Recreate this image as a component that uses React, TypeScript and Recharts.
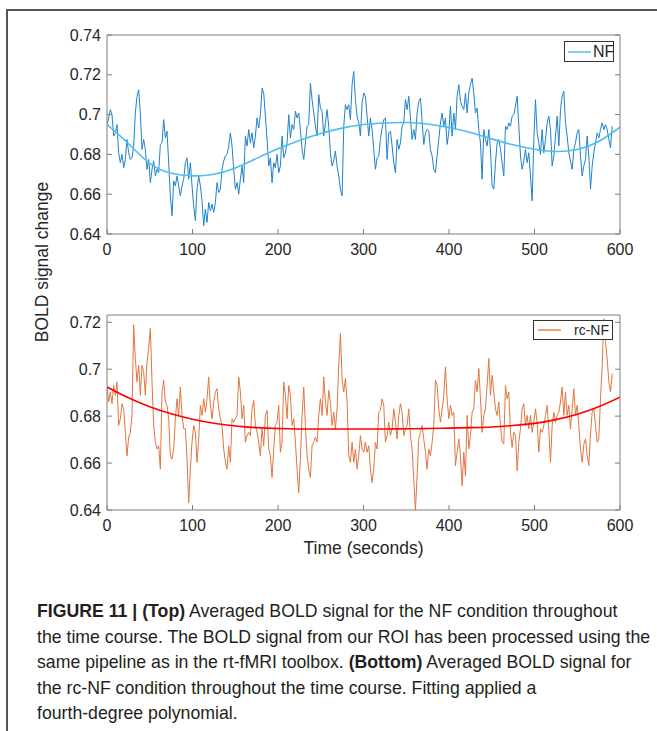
import React from "react";
import { LineChart, Line, XAxis, YAxis, Legend } from "recharts";

// sampling interval of the averaged BOLD time course (seconds)
const SAMPLE_STEP = 1.95;

const nfValues = [
  0.6950, 0.6983, 0.7025, 0.7000, 0.6892, 0.6908, 0.6950, 0.6808, 0.6758, 0.6800,
  0.6733, 0.6775, 0.6875, 0.6808, 0.6775, 0.6783, 0.6842, 0.7008, 0.7092, 0.7125,
  0.7008, 0.6825, 0.6875, 0.6825, 0.6725, 0.6775, 0.6658, 0.6725, 0.6767, 0.6692,
  0.6725, 0.6708, 0.6850, 0.6858, 0.6975, 0.6883, 0.6917, 0.6758, 0.6592, 0.6492,
  0.6667, 0.6642, 0.6692, 0.6642, 0.6592, 0.6642, 0.6675, 0.6758, 0.6783, 0.6675,
  0.6758, 0.6642, 0.6542, 0.6467, 0.6625, 0.6692, 0.6642, 0.6567, 0.6442, 0.6525,
  0.6458, 0.6558, 0.6517, 0.6550, 0.6508, 0.6558, 0.6658, 0.6608, 0.6625, 0.6725,
  0.6767, 0.6792, 0.6800, 0.6842,
  0.6908, 0.6842, 0.6725, 0.6625, 0.6658, 0.6600, 0.6675, 0.6742, 0.6658, 0.6892,
  0.6842, 0.6925, 0.6858, 0.6908, 0.6833, 0.6892, 0.6983, 0.6933, 0.7000, 0.7133,
  0.7108, 0.6992, 0.6875, 0.6742, 0.6783, 0.6658, 0.6758, 0.6733, 0.6800, 0.6708,
  0.6742, 0.6892, 0.6783, 0.6808, 0.6858, 0.7000, 0.6883, 0.6950, 0.6925, 0.7017,
  0.6983, 0.7008, 0.6925, 0.6825, 0.6775, 0.6858, 0.6942, 0.6950, 0.7158, 0.7075,
  0.7008, 0.6942, 0.6892, 0.7100, 0.7033, 0.7017, 0.6892, 0.6958, 0.7025, 0.6942,
  0.6808, 0.6742, 0.6767, 0.6817, 0.6742, 0.6692, 0.6625, 0.6592, 0.6942, 0.7050,
  0.7025, 0.7050, 0.6975, 0.7150, 0.7217, 0.7075, 0.6992, 0.6958,
  0.6892, 0.7058, 0.7108, 0.7092, 0.6992, 0.6892, 0.6983, 0.6925, 0.6825, 0.6725,
  0.6783, 0.6792, 0.6875, 0.6933, 0.6975, 0.6983, 0.6775, 0.6908, 0.6917, 0.6842,
  0.6758, 0.6708, 0.6875, 0.6825, 0.6858, 0.6942, 0.6958, 0.7075, 0.7025, 0.7092,
  0.6983, 0.6875, 0.6925, 0.6875, 0.7008, 0.7067, 0.7083, 0.6967, 0.6850, 0.6908,
  0.6925, 0.6917, 0.6825, 0.6792, 0.6725, 0.6708, 0.6792, 0.6875, 0.6958, 0.7008,
  0.6942, 0.6983, 0.6850, 0.6908, 0.7042, 0.6892, 0.7008, 0.6925, 0.7092, 0.7150,
  0.7067, 0.7042, 0.7025, 0.7108, 0.7008, 0.7108, 0.7150, 0.7183, 0.7108, 0.7008,
  0.7033, 0.6925, 0.6858, 0.6675, 0.6925, 0.6875, 0.6842, 0.6925,
  0.6825, 0.6642, 0.6625, 0.6758, 0.6858, 0.6875, 0.6825, 0.6758, 0.6692, 0.6942,
  0.6925, 0.6958, 0.6942, 0.6992, 0.7000, 0.7042, 0.7092, 0.6942, 0.6792, 0.6725,
  0.6767, 0.6825, 0.6758, 0.6808, 0.6692, 0.6567, 0.6875, 0.7075, 0.6908, 0.6858,
  0.6800, 0.6925, 0.6808, 0.6875, 0.6958, 0.6992, 0.6925, 0.6742, 0.6792, 0.6892,
  0.6992, 0.6842, 0.7025, 0.7092, 0.7117, 0.6958, 0.6892, 0.6808, 0.6767, 0.6725,
  0.6825, 0.6858, 0.6908, 0.6925, 0.6792, 0.6692, 0.6742, 0.6775, 0.6892, 0.6792,
  0.6625, 0.6742, 0.6808, 0.6858, 0.6908, 0.6883, 0.6925, 0.6958, 0.6925, 0.6950,
  0.6925, 0.6875, 0.6833, 0.6942,
];

const rcValues = [
  0.6924, 0.6860, 0.6903, 0.6853, 0.6931, 0.6889, 0.6946, 0.6760, 0.6789, 0.6853,
  0.6831, 0.6731, 0.6631, 0.6710, 0.6731, 0.6803, 0.7189, 0.7046, 0.6946, 0.7017,
  0.6889, 0.7017, 0.6989, 0.6889, 0.7031, 0.7089, 0.7174, 0.6946, 0.6760, 0.6689,
  0.6660, 0.6674, 0.6574, 0.6903, 0.6953, 0.6860, 0.6846, 0.6789, 0.6631, 0.6617,
  0.6660, 0.6789, 0.6874, 0.6803, 0.6924, 0.6803, 0.6746, 0.6746, 0.6617, 0.6431,
  0.6574, 0.6689, 0.6760, 0.6731, 0.6603, 0.6703, 0.6846, 0.6803, 0.6874, 0.6817,
  0.6874, 0.6967, 0.6846, 0.6789, 0.6860, 0.6903, 0.6917, 0.6831, 0.6789, 0.6760,
  0.6660, 0.6603, 0.6574, 0.6674,
  0.6603, 0.6789, 0.6774, 0.6789, 0.6803, 0.6967, 0.6903, 0.6789, 0.6846, 0.6689,
  0.6717, 0.6731, 0.6717, 0.6831, 0.6867, 0.6760, 0.6731, 0.6689, 0.6631, 0.6746,
  0.6674, 0.6803, 0.6824, 0.6660, 0.6631, 0.6539, 0.6660, 0.6760, 0.6774, 0.6846,
  0.6646, 0.6689, 0.6946, 0.6889, 0.6789, 0.6931, 0.6889, 0.6760, 0.6789, 0.6689,
  0.6574, 0.6474, 0.6617, 0.6803, 0.6924, 0.6760, 0.6631, 0.6574, 0.6539, 0.6674,
  0.6689, 0.6710, 0.6689, 0.6803, 0.6874, 0.6803, 0.6967, 0.6860, 0.6803, 0.6910,
  0.6860, 0.6760, 0.6817, 0.6746, 0.6831, 0.7017, 0.7153, 0.6960, 0.6903, 0.6960,
  0.6860, 0.6631, 0.6603, 0.6689, 0.6603, 0.6660, 0.6574, 0.6631,
  0.6717, 0.6660, 0.6646, 0.6689, 0.6646, 0.6674, 0.6574, 0.6517, 0.6574, 0.6689,
  0.6660, 0.6817, 0.6824, 0.6874, 0.6846, 0.6689, 0.6717, 0.6774, 0.6717, 0.6746,
  0.6831, 0.6774, 0.6703, 0.6803, 0.6853, 0.6817, 0.6717, 0.6746, 0.6760, 0.6831,
  0.6717, 0.6660, 0.6531, 0.6398, 0.6546, 0.6703, 0.6731, 0.6760, 0.6703, 0.6646,
  0.6574, 0.6660, 0.6631, 0.6689, 0.6760, 0.6953, 0.6931, 0.6831, 0.6774, 0.6831,
  0.6889, 0.7010, 0.6874, 0.6789, 0.6846, 0.6803, 0.6817, 0.6589, 0.6646, 0.6703,
  0.6631, 0.6503, 0.6646, 0.6546, 0.6803, 0.6660, 0.6717, 0.6817, 0.6831, 0.6953,
  0.6903, 0.7003, 0.6874, 0.6731, 0.6803, 0.6831, 0.6931, 0.7046,
  0.6889, 0.6974, 0.6903, 0.6831, 0.6803, 0.6860, 0.6760, 0.6689, 0.6681, 0.6931,
  0.6874, 0.6903, 0.6731, 0.6667, 0.6731, 0.6717, 0.6567, 0.6689, 0.6746, 0.6831,
  0.6853, 0.6760, 0.6803, 0.6746, 0.6803, 0.6731, 0.6774, 0.6831, 0.6774, 0.6646,
  0.6746, 0.6731, 0.6760, 0.6803, 0.6846, 0.6739, 0.6603, 0.6760, 0.6817, 0.6774,
  0.6803, 0.6817, 0.6860, 0.6924, 0.6803, 0.6903, 0.6803, 0.6846, 0.6746, 0.6831,
  0.6917, 0.6803, 0.6846, 0.6760, 0.6660, 0.6603, 0.6681, 0.6703, 0.6631, 0.6589,
  0.6724, 0.6817, 0.6831, 0.6760, 0.6689, 0.6703, 0.6874, 0.7017, 0.7215, 0.7117,
  0.7046, 0.6946, 0.6903, 0.6981,
];

// fourth-degree polynomial fits, read at 25 s steps
const fitTimes = [
  0, 25, 50, 75, 100, 125, 150, 175, 200, 225, 250, 275, 300,
  325, 350, 375, 400, 425, 450, 475, 500, 525, 550, 575, 600,
];
const nfFitValues = [
  0.6950, 0.6855, 0.6755, 0.6705, 0.6692, 0.6700, 0.6732, 0.6780, 0.6828, 0.6870,
  0.6905, 0.6932, 0.6950, 0.6958, 0.6960, 0.6953, 0.6935, 0.6910, 0.6878, 0.6848,
  0.6826, 0.6815, 0.6825, 0.6865, 0.6937,
];
const rcFitValues = [
  0.6924, 0.6878, 0.6840, 0.6810, 0.6787, 0.6770, 0.6758, 0.6751, 0.6747, 0.6745,
  0.6745, 0.6745, 0.6745, 0.6745, 0.6746, 0.6747, 0.6749, 0.6751, 0.6754, 0.6760,
  0.6769, 0.6785, 0.6808, 0.6840, 0.6881,
];

const xTicks = [0, 100, 200, 300, 400, 500, 600];
const nfYTicks = [0.64, 0.66, 0.68, 0.7, 0.72, 0.74];
const rcYTicks = [0.64, 0.66, 0.68, 0.7, 0.72];

const nfData = nfValues.map((v, i) => ({ t: i * SAMPLE_STEP, v }));
const rcData = rcValues.map((v, i) => ({ t: i * SAMPLE_STEP, v }));
const nfFit = fitTimes.map((t, i) => ({ t, v: nfFitValues[i] }));
const rcFit = fitTimes.map((t, i) => ({ t, v: rcFitValues[i] }));

const FONT = '"Liberation Sans", Arial, Helvetica, sans-serif';
const AXIS = "#7f7f7f";
const TEXT = "#262626";
const tickStyle = { fill: TEXT, fontSize: 16, fontFamily: FONT };

function LegendBox({ payload, color, fontSize, padLeft, gap }: any) {
  const items = (payload || []).filter((p: any) => p.type !== "none");
  return (
    <div
      style={{
        width: "100%",
        height: "100%",
        boxSizing: "border-box",
        border: "1px solid #333",
        background: "#fff",
        display: "flex",
        alignItems: "center",
        paddingLeft: padLeft,
      }}
    >
      {items.map((p: any) => (
        <div key={p.value} style={{ display: "flex", alignItems: "center" }}>
          <svg width={23} height={4}>
            <line x1={0} y1={2} x2={23} y2={2} stroke={color} strokeWidth={1.5} />
          </svg>
          <span style={{ marginLeft: gap, fontSize, fontFamily: FONT, color: TEXT, lineHeight: 1 }}>
            {p.value}
          </span>
        </div>
      ))}
    </div>
  );
}

function Panel({
  top, height, marginBottom, xHeight, data, fit, domain, yTicks, color, fitColor, name,
  legendStyle, legendColor, legendFont, legendPad, legendGap, xLabel,
}: any) {
  return (
    <div style={{ position: "absolute", left: 0, top }}>
      <LineChart width={657} height={height} margin={{ top: 34, right: 36, left: 47, bottom: marginBottom }}>
        <XAxis
          dataKey="t"
          type="number"
          domain={[0, 600]}
          ticks={xTicks}
          interval={0}
          allowDataOverflow
          height={xHeight}
          tickSize={-5}
          tickMargin={15}
          stroke={AXIS}
          tick={tickStyle}
          label={
            xLabel
              ? { value: xLabel, position: "insideBottom", offset: 6, fill: TEXT, fontSize: 17.5, fontFamily: FONT }
              : undefined
          }
        />
        <XAxis
          xAxisId="top"
          orientation="top"
          type="number"
          domain={[0, 600]}
          ticks={xTicks}
          interval={0}
          allowDataOverflow
          height={1}
          tickSize={-5}
          tickFormatter={() => ""}
          stroke={AXIS}
        />
        <YAxis
          type="number"
          domain={domain}
          ticks={yTicks}
          interval={0}
          allowDataOverflow
          width={60}
          tickSize={-5}
          tickMargin={11}
          stroke={AXIS}
          tick={tickStyle}
        />
        <YAxis
          yAxisId="right"
          orientation="right"
          type="number"
          domain={domain}
          ticks={yTicks}
          interval={0}
          allowDataOverflow
          width={1}
          tickSize={-5}
          tickFormatter={() => ""}
          stroke={AXIS}
        />
        <Legend
          layout="vertical"
          align="center"
          verticalAlign="middle"
          wrapperStyle={legendStyle}
          content={(props: any) => (
            <LegendBox
              payload={props.payload}
              color={legendColor}
              fontSize={legendFont}
              padLeft={legendPad}
              gap={legendGap}
            />
          )}
        />
        <Line
          data={data}
          dataKey="v"
          name={name}
          type="linear"
          stroke={color}
          strokeWidth={1}
          dot={false}
          activeDot={false}
          isAnimationActive={false}
        />
        <Line
          data={fit}
          dataKey="v"
          name={`${name} fit`}
          legendType="none"
          type="natural"
          stroke={fitColor}
          strokeWidth={1.6}
          dot={false}
          activeDot={false}
          isAnimationActive={false}
        />
      </LineChart>
    </div>
  );
}

const captionLines = [
  [
    { text: "FIGURE 11 | (Top)", bold: true },
    { text: " Averaged BOLD signal for the NF condition throughout", bold: false },
  ],
  [{ text: "the time course. The BOLD signal from our ROI has been processed using the", bold: false }],
  [
    { text: "same pipeline as in the rt-fMRI toolbox. ", bold: false },
    { text: "(Bottom)", bold: true },
    { text: " Averaged BOLD signal for", bold: false },
  ],
  [{ text: "the rc-NF condition throughout the time course. Fitting applied a", bold: false }],
  [{ text: "fourth-degree polynomial.", bold: false }],
];

export default function App() {
  return (
    <div
      style={{
        position: "absolute",
        left: 0,
        top: 0,
        width: 657,
        height: 731,
        background: "#fff",
        overflow: "hidden",
      }}
    >
      <div style={{ position: "absolute", left: 6, top: 9, width: 651, height: 1.5, background: "#555" }} />
      <div style={{ position: "absolute", left: 6, top: 9, width: 1.5, height: 722, background: "#555" }} />

      <Panel
        top={0}
        height={265}
        marginBottom={1}
        xHeight={30}
        data={nfData}
        fit={nfFit}
        domain={[0.64, 0.74]}
        yTicks={nfYTicks}
        color="#1f82cc"
        fitColor="#4DBEEE"
        name="NF"
        legendStyle={{ left: 564, top: 41, width: 50, height: 21 }}
        legendColor="#4DBEEE"
        legendFont={16}
        legendPad={3}
        legendGap={2}
      />
      <Panel
        top={280}
        height={280}
        marginBottom={0}
        xHeight={50}
        data={rcData}
        fit={rcFit}
        domain={[0.64, 0.7231]}
        yTicks={rcYTicks}
        color="#E27640"
        fitColor="#FF0000"
        name="rc-NF"
        legendStyle={{ left: 533, top: 40, width: 80, height: 20 }}
        legendColor="#E8844F"
        legendFont={14}
        legendPad={4}
        legendGap={13}
        xLabel="Time (seconds)"
      />

      <div
        style={{
          position: "absolute",
          left: 42,
          top: 262,
          transform: "translate(-50%, -50%) rotate(-90deg)",
          whiteSpace: "nowrap",
          fontFamily: FONT,
          fontSize: 17.5,
          color: TEXT,
        }}
      >
        BOLD signal change
      </div>

      {captionLines.map((line, i) => (
        <div
          key={i}
          style={{
            position: "absolute",
            left: 37,
            top: 600 + i * 25.5,
            height: 22,
            lineHeight: "22px",
            whiteSpace: "nowrap",
            fontFamily: FONT,
            fontSize: 17.7,
            color: "#231f20",
          }}
        >
          {line.map((seg, j) => (
            <span key={j} style={{ fontWeight: seg.bold ? 700 : 400 }}>
              {seg.text}
            </span>
          ))}
        </div>
      ))}
    </div>
  );
}
